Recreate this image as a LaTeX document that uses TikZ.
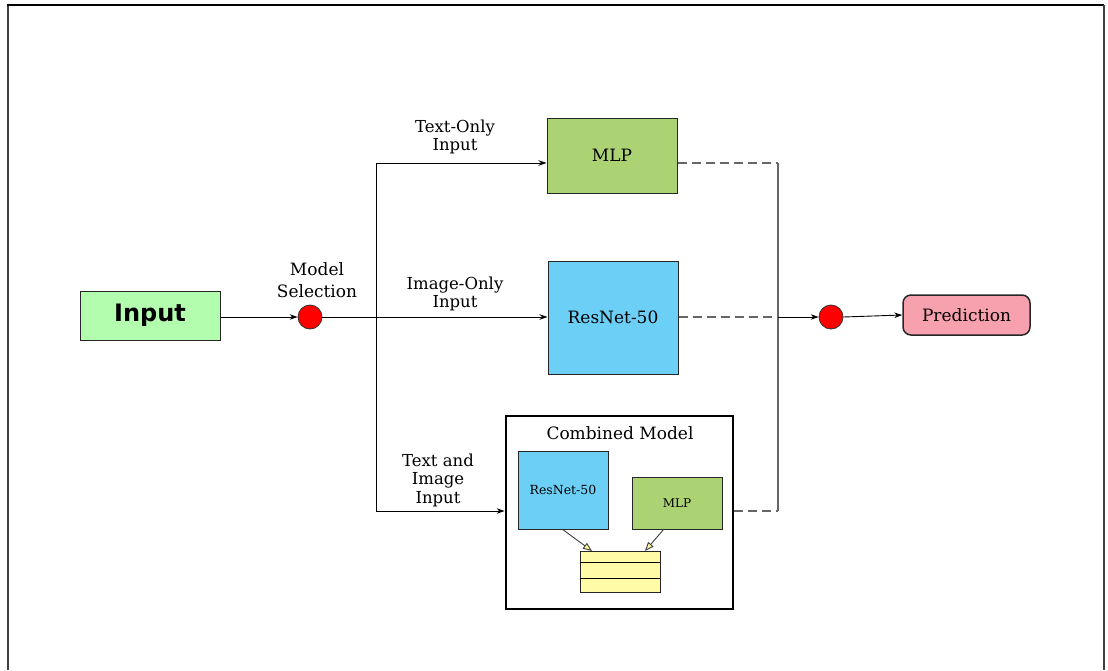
\documentclass[tikz,border=0pt]{standalone}
\usepackage{fontspec}
\setmainfont{DejaVu Serif}
\newfontfamily\boldsans{DejaVu Sans}
\usetikzlibrary{arrows.meta}
\definecolor{ingreen}{HTML}{B3FDAE}
\definecolor{mlpgreen}{HTML}{ACD373}
\definecolor{resblue}{HTML}{6CCFF6}
\definecolor{predpink}{HTML}{F8A1AE}
\definecolor{tabyellow}{HTML}{FFFBA6}
\definecolor{selred}{HTML}{FF0000}
\definecolor{dashgray}{HTML}{666666}
\tikzset{
  box/.style={draw=black!85, line width=1pt, inner sep=0pt},
  selnode/.style={circle, draw=black!80, fill=selred, minimum size=24pt, inner sep=0pt, line width=0.8pt},
  arr/.style={line width=0.9pt, -{Stealth[length=8pt,width=5.5pt]}},
  plain/.style={line width=0.9pt},
  dashline/.style={draw=dashgray, line width=1.2pt, dash pattern=on 9pt off 5pt},
  grayline/.style={draw=dashgray, line width=1.2pt},
  lbl/.style={align=center, font=\fontsize{16.5}{18.5}\selectfont, inner sep=0pt},
  yarr/.style={line width=0.9pt, draw=black!75, -{Triangle[length=9pt,width=7pt,fill=tabyellow]}},
}
\begin{document}
\begin{tikzpicture}[x=1pt,y=-1pt]
\useasboundingbox (0,0) rectangle (1108,670);
% page frame
\draw[black!75, line width=2pt] (7.5,670) -- (7.5,5);
\draw[black, line width=2pt] (6.5,5) -- (1104,5);
\draw[black!75, line width=2pt] (1104,5) -- (1104,670);
% main nodes
\node[box, fill=ingreen, minimum width=140pt, minimum height=49pt] (input) at (150,315.5)
  {\boldsans\bfseries\fontsize{24}{26}\selectfont Input};
\node[selnode] (c1) at (310,317) {};
\node[align=center, inner sep=0pt, font=\fontsize{17}{22}\selectfont] (msel) at (317,280) {Model\\Selection};
\node[box, fill=mlpgreen, minimum width=130pt, minimum height=75pt] (mlp) at (612,155.5)
  {\fontsize{17}{19}\selectfont MLP};
\node[box, fill=resblue, minimum width=130pt, minimum height=113pt] (res) at (613,317.5)
  {\fontsize{17}{19}\selectfont ResNet-50};
\node[draw=black, line width=2.8pt, fill=white, minimum width=227pt, minimum height=193pt] (comb) at (619.5,512.5) {};
\node[font=\fontsize{17}{19}\selectfont, inner sep=0pt] (ctitle) at (620,433) {Combined Model};
\node[box, fill=resblue, minimum width=90pt, minimum height=78pt] (ires) at (563,490)
  {\fontsize{12.5}{14}\selectfont ResNet-50};
\node[box, fill=mlpgreen, minimum width=90pt, minimum height=52pt] (imlp) at (677,503)
  {\fontsize{12}{14}\selectfont MLP};
\node[box, line width=0.9pt, fill=tabyellow, minimum width=80pt, minimum height=41pt] (tab) at (620,571.5) {};
\draw[line width=0.9pt] (tab.west |- 0,562) -- (tab.east |- 0,562);
\draw[line width=0.9pt] (tab.west |- 0,578) -- (tab.east |- 0,578);
\node[selnode] (c2) at (831,317) {};
\node[box, line width=1.5pt, rounded corners=8pt, fill=predpink, minimum width=127pt, minimum height=40pt] (pred) at (966.5,315)
  {\fontsize{17}{19}\selectfont Prediction};
% labels
\node[lbl] (ltext) at (455,137) {Text-Only\\Input};
\node[lbl] (limg) at (455,294) {Image-Only\\Input};
\node[lbl] (lboth) at (438,480) {Text and\\Image\\Input};
% junction coordinates
\coordinate (jt) at (376,163);
\coordinate (jb) at (376,511);
\coordinate (rt) at (778,163);
\coordinate (rm) at (778,317);
\coordinate (rb) at (778,511);
\coordinate (a1s) at (562,529);
\coordinate (a1e) at (592,551);
\coordinate (a2s) at (664,529);
\coordinate (a2e) at (645,551);
% connectors
\draw[arr] (input.east |- c1) -- (c1.west);
\draw[arr] (c1.east) -- (res.west |- c1);
\draw[plain] (jt) -- (jb);
\draw[arr] (jt) -- (jt -| mlp.west);
\draw[arr] (jb) -- (jb -| comb.west);
\draw[dashline] (mlp.east |- rt) -- (rt);
\draw[dashline] (res.east |- rm) -- (rm);
\draw[dashline] (comb.east |- rb) -- (rb);
\draw[grayline] (rt) -- (rb);
\draw[arr] (rm) -- (c2.west);
\draw[arr] (c2.east) -- (pred.west);
\draw[yarr] (a1s) -- (a1e);
\draw[yarr] (a2s) -- (a2e);
\end{tikzpicture}
\end{document}
